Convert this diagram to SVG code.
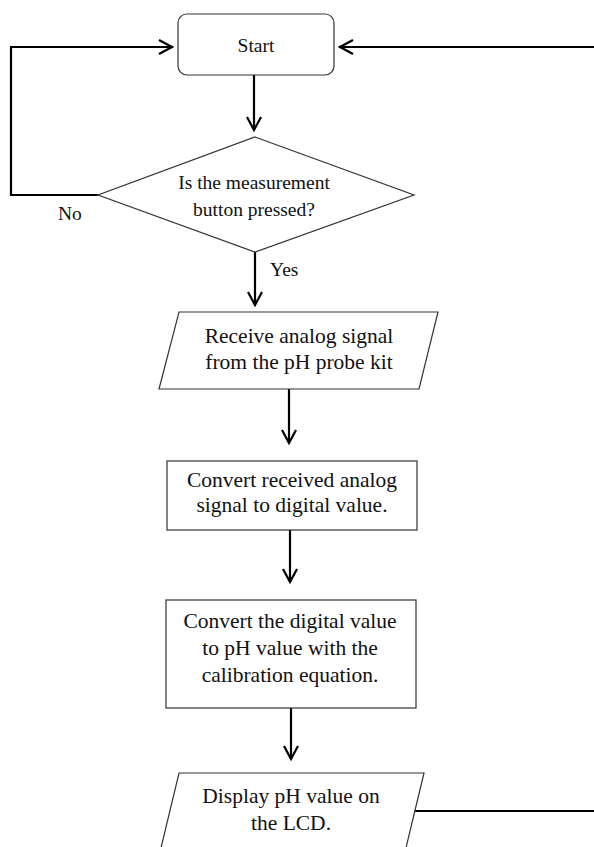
<svg xmlns="http://www.w3.org/2000/svg" width="594" height="847" viewBox="0 0 594 847">
<style>
.shape{fill:#fff;stroke:#333;stroke-width:1.2}
.conn{fill:none;stroke:#000;stroke-width:2.2}
.t{font-family:"Liberation Serif","Times New Roman",serif;fill:#111;text-anchor:middle}
.s{font-size:19.5px}
.b{font-size:21.5px}
.lbl{font-family:"Liberation Serif","Times New Roman",serif;fill:#111;font-size:19.5px}
</style>
<defs>
<marker id="arr" viewBox="0 0 16 16" refX="14" refY="8" markerWidth="16" markerHeight="16" markerUnits="userSpaceOnUse" orient="auto">
<path d="M1,1 L14,8 L1,15" fill="none" stroke="#000" stroke-width="2.2"/>
</marker>
</defs>
<rect width="594" height="847" fill="#fff"/>
<g id="connectors">
<path class="conn" d="M254,75 L254,130" marker-end="url(#arr)"/>
<path class="conn" d="M98,195 L11,195 L11,47 L172,47" marker-end="url(#arr)"/>
<path class="conn" d="M255,252 L255,305" marker-end="url(#arr)"/>
<path class="conn" d="M289,389 L289,443" marker-end="url(#arr)"/>
<path class="conn" d="M290,530 L290,582" marker-end="url(#arr)"/>
<path class="conn" d="M291,708 L291,759" marker-end="url(#arr)"/>
<path class="conn" d="M413,811 L602,811 L602,47 L340,47" marker-end="url(#arr)"/>
</g>
<g id="start">
<rect class="shape" x="178" y="14" width="156" height="61" rx="9"/>
<text class="t s" x="256" y="52">Start</text>
</g>
<g id="decision">
<polygon class="shape" points="255,137 414,195 255,252 98,195"/>
<text class="t s" x="254" y="189">Is the measurement</text>
<text class="t s" x="254" y="216">button pressed?</text>
</g>
<text id="label-no" class="lbl" x="58" y="220">No</text>
<text id="label-yes" class="lbl" x="270" y="276">Yes</text>
<g id="receive">
<polygon class="shape" points="179,312 438,312 419,389 159,389"/>
<text class="t b" x="299" y="343">Receive analog signal</text>
<text class="t b" x="299" y="369">from the pH probe kit</text>
</g>
<g id="convert1">
<rect class="shape" x="167" y="461" width="250" height="69"/>
<text class="t b" x="292" y="487">Convert received analog</text>
<text class="t b" x="292" y="512">signal to digital value.</text>
</g>
<g id="convert2">
<rect class="shape" x="166" y="600" width="250" height="108"/>
<text class="t b" x="290" y="628">Convert the digital value</text>
<text class="t b" x="290" y="655">to pH value with the</text>
<text class="t b" x="290" y="682">calibration equation.</text>
</g>
<g id="display">
<polygon class="shape" points="179,773 424,773 405,852 160,852"/>
<text class="t b" x="291" y="803">Display pH value on</text>
<text class="t b" x="291" y="830">the LCD.</text>
</g>
</svg>
